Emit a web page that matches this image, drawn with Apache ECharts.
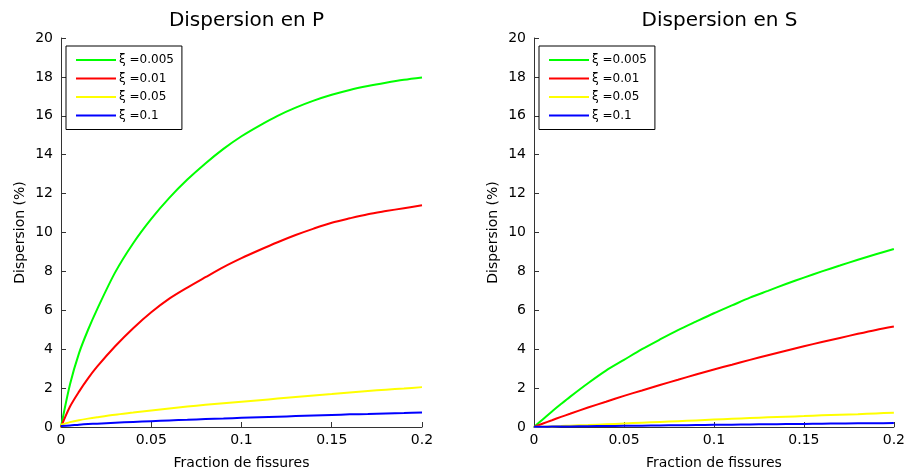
<!DOCTYPE html>
<html>
<head>
<meta charset="utf-8">
<script src="https://cdn.jsdelivr.net/npm/echarts@6/dist/echarts.min.js"></script>
<style>
html,body{margin:0;padding:0;background:#fff;}
#chart{width:908px;height:475px;}
</style>
</head>
<body>
<div id="chart"></div>
<script>
// Data
const fractions = [0, 0.005, 0.01, 0.015, 0.02, 0.03, 0.04, 0.05, 0.06, 0.07, 0.08, 0.09, 0.1, 0.11, 0.12, 0.13, 0.14, 0.15, 0.16, 0.17, 0.18, 0.19, 0.2];
const seriesNames = ['ξ =0.005', 'ξ =0.01', 'ξ =0.05', 'ξ =0.1'];
const seriesColors = ['#00ff00', '#ff0000', '#ffff00', '#0000ff'];
const titles = ['Dispersion en P', 'Dispersion en S'];
const xTicks = ['0', '0.05', '0.1', '0.15', '0.2'];

// Dispersion en P
const pXi0005 = [0, 2.2, 3.8, 5.0, 6.05, 7.95, 9.45, 10.7, 11.78, 12.72, 13.55, 14.3, 14.95, 15.5, 16.0, 16.42, 16.78, 17.08, 17.33, 17.53, 17.7, 17.85, 17.97];
const pXi001  = [0, 1.05, 1.82, 2.5, 3.1, 4.15, 5.08, 5.9, 6.6, 7.17, 7.7, 8.22, 8.68, 9.1, 9.5, 9.87, 10.2, 10.5, 10.73, 10.94, 11.1, 11.25, 11.4];
const pXi005  = [0.12, 0.25, 0.35, 0.43, 0.5, 0.63, 0.74, 0.85, 0.95, 1.05, 1.14, 1.22, 1.3, 1.38, 1.46, 1.54, 1.62, 1.7, 1.78, 1.85, 1.92, 1.98, 2.05];
const pXi01   = [0.05, 0.08, 0.12, 0.15, 0.17, 0.22, 0.26, 0.3, 0.34, 0.37, 0.41, 0.44, 0.47, 0.5, 0.53, 0.56, 0.59, 0.62, 0.65, 0.67, 0.7, 0.72, 0.75];

// Dispersion en S
const sXi0005 = [0, 0.4, 0.8, 1.18, 1.55, 2.25, 2.9, 3.45, 4.0, 4.5, 4.98, 5.42, 5.85, 6.25, 6.65, 7.0, 7.35, 7.68, 8.0, 8.3, 8.6, 8.88, 9.15];
const sXi001  = [0, 0.18, 0.35, 0.52, 0.68, 1.0, 1.3, 1.6, 1.88, 2.16, 2.43, 2.7, 2.96, 3.2, 3.45, 3.69, 3.92, 4.15, 4.37, 4.58, 4.79, 4.99, 5.17];
const sXi005  = [0, 0.015, 0.03, 0.05, 0.07, 0.1, 0.14, 0.18, 0.22, 0.26, 0.3, 0.34, 0.38, 0.42, 0.46, 0.5, 0.53, 0.56, 0.6, 0.63, 0.66, 0.7, 0.73];
const sXi01   = [0.01, 0.01, 0.02, 0.02, 0.03, 0.04, 0.05, 0.06, 0.07, 0.08, 0.09, 0.1, 0.11, 0.12, 0.13, 0.14, 0.15, 0.16, 0.17, 0.18, 0.19, 0.19, 0.2];

const panels = [[pXi0005, pXi001, pXi005, pXi01], [sXi0005, sXi001, sXi005, sXi01]];

const FONT = 'DejaVu Sans';
const gridLefts = [61, 534];
const gridTop = 38, gridH = 392, gridW = 361;

const chart = echarts.init(document.getElementById('chart'), null, {renderer: 'canvas'});

const option = {
  animation: false,
  backgroundColor: '#fff',
  textStyle: {fontFamily: FONT},
  title: titles.map((t, i) => ({
    text: t,
    left: gridLefts[i] + gridW / 2,
    top: 6,
    textAlign: 'center',
    textStyle: {fontFamily: FONT, fontSize: 20, fontWeight: 'normal', color: '#000'}
  })),
  legend: gridLefts.map((l, i) => ({
    data: seriesNames,
    left: l + 5,
    top: 46,
    orient: 'vertical',
    icon: 'rect',
    itemWidth: 40,
    itemHeight: 2,
    itemGap: 6.5,
    padding: [8, 8, 8, 10],
    borderColor: '#000',
    borderWidth: 1,
    backgroundColor: '#fff',
    selectedMode: false,
    textStyle: {fontFamily: FONT, fontSize: 12, color: '#000', padding: [0, 0, 0, -2]}
  })),
  grid: gridLefts.map(l => ({left: l, top: gridTop, width: gridW, height: gridH, containLabel: false})),
  xAxis: gridLefts.map((l, i) => ({
    type: 'value',
    gridIndex: i,
    min: 0, max: 0.2, interval: 0.05,
    name: 'Fraction de fissures',
    nameLocation: 'middle',
    nameGap: 29,
    nameTextStyle: {fontFamily: FONT, fontSize: 14, color: '#000'},
    axisLine: {show: true, lineStyle: {color: '#333', width: 1}},
    axisTick: {show: true, inside: true, length: 5, lineStyle: {color: '#333'}},
    axisLabel: {fontFamily: FONT, fontSize: 14, color: '#000', margin: 6,
      formatter: v => xTicks[Math.round(v / 0.05)]},
    splitLine: {show: false}
  })),
  yAxis: gridLefts.map((l, i) => ({
    type: 'value',
    gridIndex: i,
    min: 0, max: 20, interval: 2,
    name: 'Dispersion (%)',
    nameLocation: 'middle',
    nameGap: 34,
    nameTextStyle: {fontFamily: FONT, fontSize: 14, color: '#000'},
    axisLine: {show: true, lineStyle: {color: '#333', width: 1}},
    axisTick: {show: true, inside: true, length: 5, lineStyle: {color: '#333'}},
    axisLabel: {fontFamily: FONT, fontSize: 14, color: '#000', margin: 8},
    splitLine: {show: false}
  })),
  series: []
};

panels.forEach((vals, p) => {
  vals.forEach((arr, k) => {
    option.series.push({
      type: 'line',
      name: seriesNames[k],
      xAxisIndex: p,
      yAxisIndex: p,
      showSymbol: false,
      smooth: 0.3,
      color: seriesColors[k],
      lineStyle: {color: seriesColors[k], width: 2},
      data: fractions.map((x, j) => [x, arr[j]])
    });
  });
});

chart.setOption(option);
</script>
</body>
</html>
